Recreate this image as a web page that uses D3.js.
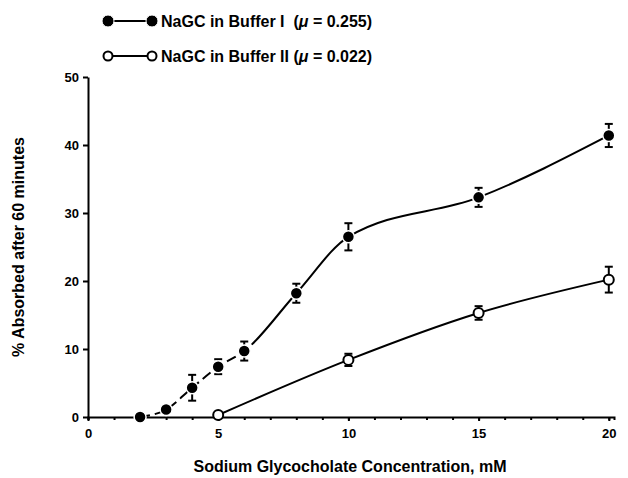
<!DOCTYPE html>
<html>
<head>
<meta charset="utf-8"/>
<title>NaGC absorption</title>
<style>
  body { margin: 0; background: #fff; }
  svg { display: block; font-family: "Liberation Sans", Arial, sans-serif; }
  .axis path, .axis line { stroke: #000; stroke-width: 2; }
  .axis text { font-size: 13px; font-weight: bold; fill: #000; }
  .lbl { font-size: 15px; font-weight: bold; fill: #000; }
</style>
</head>
<body>
<svg width="628" height="478"></svg>
<script src="https://d3js.org/d3.v7.min.js"></script>
<script>

// data
var conc1 = [2, 3, 4, 5, 6, 8, 10, 15, 20];
var abs1  = [0, 1.1, 4.3, 7.4, 9.7, 18.2, 26.5, 32.3, 41.4];
var err1  = [0, 0, 1.9, 1.1, 1.4, 1.4, 2.0, 1.4, 1.7];

var conc2 = [5, 10, 15, 20];
var abs2  = [0.3, 8.4, 15.3, 20.2];
var err2  = [0, 0.9, 1.0, 1.9];

var xTicks = [0, 5, 10, 15, 20];
var yTicks = [0, 10, 20, 30, 40, 50];
var legendText = ["NaGC in Buffer I", "NaGC in Buffer II"];
var legendMu = ["0.255", "0.022"];

var svg = d3.select("svg");

var x = d3.scaleLinear().domain([0, 20.2]).range([88, 614]);
var y = d3.scaleLinear().domain([0, 50]).range([417, 77]);

// axes
svg.append("g")
    .attr("class", "axis")
    .attr("transform", "translate(0," + y(0) + ")")
    .call(d3.axisBottom(x).tickValues(d3.range(0, 21)).tickSize(3).tickFormat(""));

svg.append("g")
    .attr("class", "axis")
    .attr("transform", "translate(0," + y(0) + ")")
    .call(d3.axisBottom(x).tickValues(xTicks).tickSize(4).tickSizeOuter(0).tickPadding(8))
    .call(function(g) { g.select(".domain").remove(); });

svg.append("g")
    .attr("class", "axis")
    .attr("transform", "translate(" + x(0) + ",0)")
    .call(d3.axisLeft(y).tickValues(yTicks).tickSize(5).tickSizeOuter(0).tickPadding(4));

// axis titles
svg.append("text")
    .attr("class", "lbl")
    .attr("text-anchor", "middle")
    .attr("transform", "translate(24," + y(25) + ") rotate(-90)")
    .style("font-size", "16px")
    .text("% Absorbed after 60 minutes");

svg.append("text")
    .attr("class", "lbl")
    .attr("text-anchor", "middle")
    .attr("x", 350)
    .attr("y", 472)
    .style("font-size", "16px")
    .text("Sodium Glycocholate Concentration, mM");

var line = d3.line()
    .x(function(d) { return x(d[0]); })
    .y(function(d) { return y(d[1]); })
    .curve(d3.curveMonotoneX);

function drawSeries(xs, ys, es, filled, dashTo) {
  var pts = xs.map(function(v, i) { return [v, ys[i], es[i]]; });
  var g = svg.append("g");

  var path = g.append("path")
      .datum(pts)
      .attr("fill", "none")
      .attr("stroke", "#000")
      .attr("stroke-width", 2)
      .attr("d", line);

  if (dashTo) {
    // dashed up to x = dashTo, solid after
    var node = path.node(), total = node.getTotalLength(), L = 0;
    var px = x(dashTo);
    while (L < total && node.getPointAtLength(L).x < px) L += 1;
    var dash = [], s = 0;
    while (s < L) { dash.push(10, 5); s += 15; }
    dash.push(total + 10, 0);
    path.attr("stroke-dasharray", dash.join(","));
  }

  var eb = g.selectAll(".eb").data(pts.filter(function(d) { return d[2] > 0; }))
    .enter().append("g");
  eb.append("line")
      .attr("x1", function(d) { return x(d[0]); })
      .attr("x2", function(d) { return x(d[0]); })
      .attr("y1", function(d) { return y(d[1] - d[2]); })
      .attr("y2", function(d) { return y(d[1] + d[2]); })
      .attr("stroke", "#000").attr("stroke-width", 2);
  [-1, 1].forEach(function(sgn) {
    eb.append("line")
        .attr("x1", function(d) { return x(d[0]) - 4; })
        .attr("x2", function(d) { return x(d[0]) + 4; })
        .attr("y1", function(d) { return y(d[1] + sgn * d[2]); })
        .attr("y2", function(d) { return y(d[1] + sgn * d[2]); })
        .attr("stroke", "#000").attr("stroke-width", 2);
  });

  g.selectAll(".pt").data(pts).enter().append("circle")
      .attr("cx", function(d) { return x(d[0]); })
      .attr("cy", function(d) { return y(d[1]); })
      .attr("r", filled ? 6 : 5)
      .attr("fill", filled ? "#000" : "#fff")
      .attr("stroke", filled ? "#fff" : "#000")
      .attr("stroke-width", filled ? 1.5 : 2);
}

drawSeries(conc2, abs2, err2, false, null);
drawSeries(conc1, abs1, err1, true, 6.2);

// legend
var leg = svg.append("g");
[0, 1].forEach(function(i) {
  var ly = 21 + i * 35;
  var filled = i === 0;
  leg.append("line")
      .attr("x1", 108).attr("x2", 152).attr("y1", ly).attr("y2", ly)
      .attr("stroke", "#000").attr("stroke-width", 2);
  [108, 152].forEach(function(cx) {
    leg.append("circle")
        .attr("cx", cx).attr("cy", ly)
        .attr("r", filled ? 6 : 4.5)
        .attr("fill", filled ? "#000" : "#fff")
        .attr("stroke", filled ? "#fff" : "#000")
        .attr("stroke-width", filled ? 1 : 2);
  });
  var t = leg.append("text")
      .attr("class", "lbl")
      .attr("x", 161).attr("y", ly + 6)
      .style("font-size", "16px");
  t.append("tspan").text(legendText[i] + (filled ? "\u00a0\u00a0(" : " ("));
  t.append("tspan").style("font-style", "italic").text("\u03bc");
  t.append("tspan").text(" = " + legendMu[i] + ")");
});

</script>
</body>
</html>
